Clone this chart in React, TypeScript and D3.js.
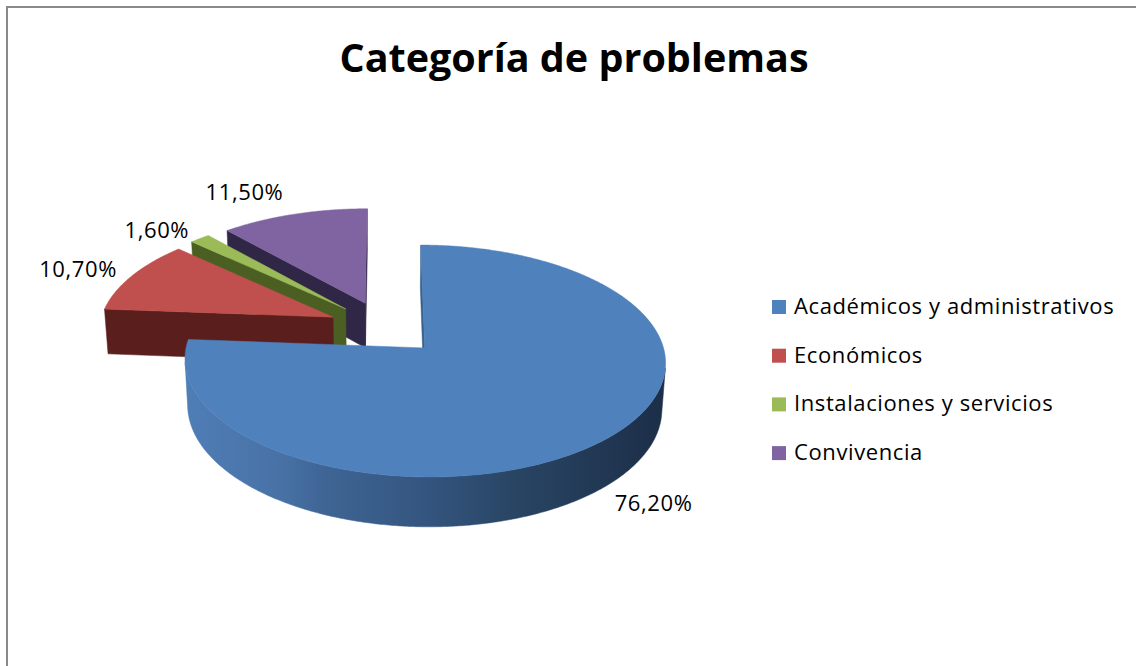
import React from "react";
import * as d3 from "d3";

// ---- data ----
const categories = [
  "Académicos y administrativos",
  "Económicos",
  "Instalaciones y servicios",
  "Convivencia",
];
const values = [76.2, 10.7, 1.6, 11.5];
const valueLabels = ["76,20%", "10,70%", "1,60%", "11,50%"];
const title = "Categoría de problemas";

// ---- styles ----
const topColors = ["#4f81bd", "#c0504d", "#9bbb59", "#8064a2"];
const sideColors = ["#3a6090", "#5a1f1d", "#4b5f22", "#302645"];
const FONT = "'Open Sans', Lato, sans-serif";

// ---- 3D projection ----
const W = 1136, Hh = 666;
const sinA = 0.47, cosA = Math.sqrt(1 - sinA * sinA);
const D = 8.0, F = 1872, CX = 385, CY = 327.8;
const DEPTH = 0.2226;
const EXPLODE = 0.245;
const camY = D * sinA, camZ = -D * cosA;

function proj(X: number, Y: number, Z: number): [number, number] {
  const zc = D + Z * cosA - Y * sinA;
  const yc = Y * cosA + Z * sinA;
  return [CX + (F * X) / zc, CY - (F * yc) / zc];
}
function depthOf(X: number, Y: number, Z: number) {
  return D + Z * cosA - Y * sinA;
}

const labelNudge: [number, number][] = [[0, 12], [-8, -20], [-11, -15], [-34, -24]];

export default function App() {
  const pie = d3.pie<number>().sort(null).startAngle(0).endAngle(2 * Math.PI);
  const arcs = pie(values);

  type Face = { d: string; fill: string; depth: number };
  const sideFaces: Face[] = [];
  const topFaces: { d: string; fill: string }[] = [];
  const labels: { x: number; y: number; text: string }[] = [];

  const line = (pts: [number, number][]) =>
    "M" + pts.map((p) => p[0].toFixed(2) + "," + p[1].toFixed(2)).join("L") + "Z";

  arcs.forEach((a, i) => {
    const mid = (a.startAngle + a.endAngle) / 2;
    const ox = EXPLODE * Math.sin(mid);
    const oz = EXPLODE * Math.cos(mid);
    const pt = (th: number, r: number, y: number): [number, number, number] => [
      ox + r * Math.sin(th),
      y,
      oz + r * Math.cos(th),
    ];
    const n = Math.max(2, Math.ceil(((a.endAngle - a.startAngle) * 180) / Math.PI / 0.5));
    const angles = d3.range(n + 1).map((k) => a.startAngle + ((a.endAngle - a.startAngle) * k) / n);

    // top face
    const topPts: [number, number][] = [proj(ox, 0, oz)];
    angles.forEach((th) => topPts.push(proj(...pt(th, 1, 0))));
    topFaces.push({ d: line(topPts), fill: topColors[i] });

    // radial faces
    const apexT = proj(ox, 0, oz), apexB = proj(ox, -DEPTH, oz);
    const radial = (th: number, nx: number, nz: number) => {
      const vis = (0 - ox) * nx + (camZ - oz) * nz;
      if (vis <= 0) return;
      const rt = proj(...pt(th, 1, 0)), rb = proj(...pt(th, 1, -DEPTH));
      const c = pt(th, 0.5, -DEPTH / 2);
      sideFaces.push({
        d: line([apexT, rt, rb, apexB]),
        fill: sideColors[i],
        depth: depthOf(c[0], c[1], c[2]),
      });
    };
    radial(a.startAngle, -Math.cos(a.startAngle), Math.sin(a.startAngle));
    radial(a.endAngle, Math.cos(a.endAngle), -Math.sin(a.endAngle));

    // outer wall: visible runs
    const visible = angles.map((th) => {
      const p = pt(th, 1, -DEPTH / 2);
      return (0 - p[0]) * Math.sin(th) + (camY - p[1]) * 0 + (camZ - p[2]) * Math.cos(th) > 0;
    });
    let run: number[] = [];
    const flush = () => {
      if (run.length > 1) {
        const top = run.map((th) => proj(...pt(th, 1, 0)));
        const bot = run.map((th) => proj(...pt(th, 1, -DEPTH))).reverse();
        const cm = run[Math.floor(run.length / 2)];
        const c = pt(cm, 1, -DEPTH / 2);
        sideFaces.push({
          d: line([...top, ...bot]),
          fill: i === 0 ? "url(#wallBlue)" : sideColors[i],
          depth: depthOf(c[0], c[1], c[2]),
        });
      }
      run = [];
    };
    angles.forEach((th, k) => {
      if (visible[k]) run.push(th);
      else flush();
    });
    flush();

    // label
    const lp = pt(mid, 1.25, -DEPTH / 2);
    const [lx, ly] = proj(...lp);
    labels.push({ x: lx + labelNudge[i][0], y: ly + labelNudge[i][1], text: valueLabels[i] });
  });

  sideFaces.sort((p, q) => q.depth - p.depth);

  const legendX = 772;
  const legendY0 = 314;
  const legendStep = 48.7;

  return (
    <svg
      width={W}
      height={Hh}
      style={{ position: "absolute", left: 0, top: 0, background: "#fff" }}
      fontFamily={FONT}
    >
      <defs>
        <linearGradient id="wallBlue" gradientUnits="userSpaceOnUse" x1={185} y1={0} x2={665} y2={0}>
          <stop offset="0" stopColor="#4f7db6" />
          <stop offset="0.2" stopColor="#4872a6" />
          <stop offset="0.28" stopColor="#3f6696" />
          <stop offset="0.5" stopColor="#34557f" />
          <stop offset="0.7" stopColor="#284462" />
          <stop offset="1" stopColor="#1c2e48" />
        </linearGradient>
      </defs>
      <rect width={W} height={Hh} fill="#fff" />
      <path d={`M7,${Hh + 5}V7H${W + 5}`} fill="none" stroke="#8a8a8a" strokeWidth={2} />
      <text x={574} y={72} textAnchor="middle" fontSize={39.5} fontWeight={700} fill="#000">
        {title}
      </text>
      <g>
        {sideFaces.map((f, k) => (
          <path key={"s" + k} d={f.d} fill={f.fill} stroke={f.fill} strokeWidth={0.5} />
        ))}
        {topFaces.map((f, k) => (
          <path key={"t" + k} d={f.d} fill={f.fill} stroke={f.fill} strokeWidth={0.5} />
        ))}
      </g>
      <g fontSize={22} letterSpacing={0.6} fill="#000">
        {labels.map((l, k) => (
          <text key={k} x={l.x} y={l.y} textAnchor="middle" dominantBaseline="central">
            {l.text}
          </text>
        ))}
      </g>
      <g fontSize={22} letterSpacing={0.6} fill="#000">
        {categories.map((c, k) => (
          <g key={c} transform={`translate(${legendX},${legendY0 + k * legendStep})`}>
            <rect x={0} y={-14} width={14} height={14} fill={topColors[k]} />
            <text x={22} y={0}>{c}</text>
          </g>
        ))}
      </g>
    </svg>
  );
}
